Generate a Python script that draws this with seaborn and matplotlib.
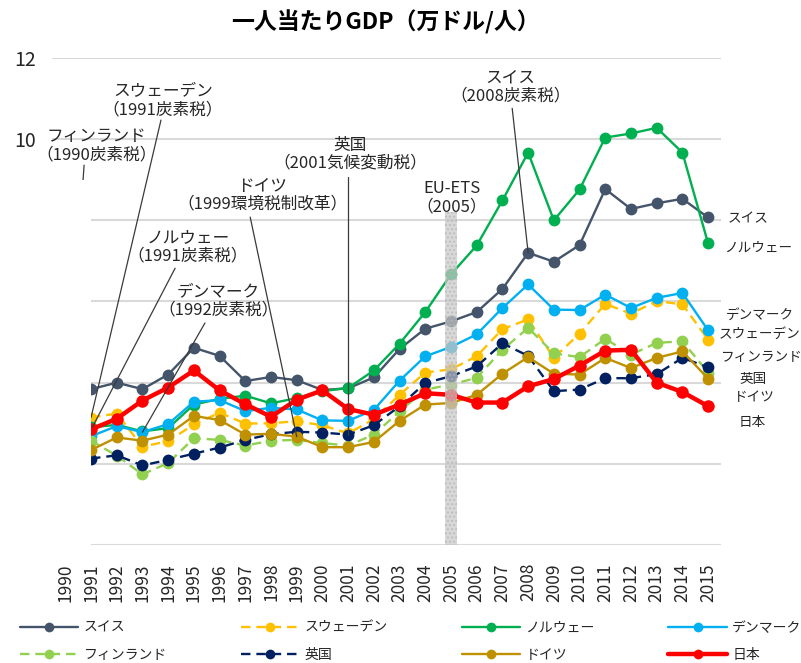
import matplotlib
matplotlib.use("Agg")
import matplotlib.pyplot as plt
import seaborn as sns
import pandas as pd
from matplotlib.patches import Rectangle
from matplotlib.lines import Line2D

# data (1991-2015), GDP per capita in 10k USD
years = list(range(1991, 2016))
swiss = [3.84, 4.0, 3.84, 4.2, 4.86, 4.66, 4.04, 4.14, 4.06, 3.82, 3.86, 4.13, 4.83,
         5.33, 5.51, 5.74, 6.31, 7.2, 6.98, 7.39, 8.77, 8.28, 8.42, 8.53, 8.07]
sweden = [3.14, 3.24, 2.42, 2.56, 2.97, 3.26, 2.99, 3.0, 3.05, 2.95, 2.75, 3.1, 3.70,
          4.25, 4.33, 4.65, 5.32, 5.56, 4.61, 5.21, 5.94, 5.70, 6.01, 5.93, 5.06]
norway = [2.90, 2.96, 2.80, 2.88, 3.46, 3.6, 3.68, 3.49, 3.62, 3.79, 3.87, 4.30, 4.96,
          5.74, 6.67, 7.38, 8.49, 9.67, 8.0, 8.76, 10.04, 10.14, 10.28, 9.67, 7.43]
denmark = [2.68, 2.93, 2.78, 2.98, 3.53, 3.57, 3.3, 3.38, 3.34, 3.07, 3.06, 3.33, 4.05,
           4.65, 4.88, 5.19, 5.84, 6.42, 5.80, 5.79, 6.17, 5.84, 6.09, 6.21, 5.29]
finland = [2.57, 2.2, 1.74, 2.02, 2.63, 2.59, 2.45, 2.57, 2.59, 2.51, 2.45, 2.72, 3.29,
           3.83, 3.95, 4.12, 4.81, 5.35, 4.72, 4.63, 5.08, 4.69, 4.98, 5.02, 4.25]
uk = [2.13, 2.21, 1.96, 2.10, 2.25, 2.40, 2.59, 2.73, 2.79, 2.77, 2.72, 2.95, 3.42,
      3.99, 4.16, 4.40, 4.97, 4.66, 3.79, 3.83, 4.11, 4.11, 4.21, 4.61, 4.38]
germany = [2.34, 2.65, 2.57, 2.72, 3.18, 3.08, 2.72, 2.74, 2.67, 2.41, 2.41, 2.54, 3.06,
           3.46, 3.50, 3.70, 4.22, 4.63, 4.22, 4.20, 4.61, 4.36, 4.61, 4.77, 4.10]
japan = [2.85, 3.11, 3.56, 3.88, 4.30, 3.81, 3.47, 3.16, 3.58, 3.81, 3.35, 3.21, 3.46,
         3.74, 3.70, 3.51, 3.51, 3.91, 4.09, 4.42, 4.79, 4.81, 4.0, 3.77, 3.42]

names = ["スイス", "スウェーデン", "ノルウェー", "デンマーク", "フィンランド", "英国", "ドイツ", "日本"]
series = [swiss, sweden, norway, denmark, finland, uk, germany, japan]
colors = ["#44546a", "#ffc000", "#00b050", "#00b0f0", "#92d050", "#002060", "#bf9000", "#ff0000"]
dashed = [False, True, False, False, True, True, False, False]

tick_years = list(range(1990, 2016))

# policy annotations: label, text pos, line start, line end
notes = [
    ("フィンランド\n（1990炭素税）", (1991.23, 9.85), (1990.73, 9.36), (1990.0, 2.8)),
    ("スウェーデン\n（1991炭素税）", (1993.8, 10.94), (1993.72, 10.47), (1991.0, 3.14)),
    ("ノルウェー\n（1991炭素税）", (1994.77, 7.36), (1994.27, 6.82), (1991.05, 2.90)),
    ("デンマーク\n（1992炭素税）", (1995.94, 6.01), (1995.43, 5.47), (1993.0, 2.78)),
    ("ドイツ\n（1999環境税制改革）", (1997.65, 8.62), (1997.19, 8.08), (1999.0, 2.67)),
    ("英国\n（2001気候変動税）", (2001.08, 9.63), (2001.0, 9.06), (2001.0, 2.72)),
    ("スイス\n（2008炭素税）", (2007.3, 11.28), (2007.38, 10.76), (2008.0, 7.2)),
]
end_labels = [("スイス", 2015.74, 8.05), ("ノルウェー", 2015.64, 7.32),
              ("デンマーク", 2015.7, 5.67), ("スウェーデン", 2015.42, 5.20),
              ("フィンランド", 2015.46, 4.63), ("英国", 2016.2, 4.09),
              ("ドイツ", 2016.0, 3.65), ("日本", 2016.2, 3.03)]

sns.set_theme(style="white")
plt.rcParams['font.family'] = ['Noto Sans CJK JP', 'DejaVu Sans']

fig = plt.figure(figsize=(8.01, 6.63), dpi=100)
ax = fig.add_axes([0.0655, 0.178, 0.8346, 0.7345])

handles = []
for name, vals, col, dsh in zip(names, series, colors, dashed):
    df = pd.DataFrame({"year": years, "gdp": vals})
    lw = 3.2 if name == "日本" else 1.7
    ms = 9 if name == "日本" else 8.5
    sns.lineplot(data=df, x="year", y="gdp", ax=ax, color=col, linewidth=lw,
                 marker="o", markersize=ms, markeredgewidth=0, sort=False)
    line = ax.lines[-1]
    if dsh:
        line.set_dashes((4, 2.5))
    h = Line2D([], [], color=col, linewidth=lw, marker="o", markersize=7,
               markeredgewidth=0)
    if dsh:
        h.set_dashes((4, 2.5))
    handles.append(h)

# EU-ETS band
ax.fill_between([2004.77, 2005.23], 0, 8.2, facecolor="#c8c8c8", alpha=0.7,
                hatch="....", edgecolor="#b4b4b4", linewidth=0, zorder=5)
ax.text(2005.04, 8.55, "EU-ETS\n（2005）", ha="center", va="center", fontsize=12,
        color="#262626", linespacing=1.1, zorder=8)

for label, tpos, p0, p1 in notes:
    ax.plot([p0[0], p1[0]], [p0[1], p1[1]], color="#3a3a3a", linewidth=0.9, zorder=4,
            clip_on=False)
    ax.text(tpos[0], tpos[1], label, ha="center", va="center", fontsize=12,
            color="#262626", linespacing=1.1, zorder=8)

# white box hiding the 1990 column
ax.add_patch(Rectangle((1989.5, -0.1), 1.5, 9.1, facecolor="white", edgecolor="none",
                       zorder=6, clip_on=False))

for label, x, y in end_labels:
    ax.text(x, y, label, ha="left", va="center", fontsize=9.8, color="#262626",
            clip_on=False)

ax.set_xlim(1989.5, 2015.5)
ax.set_ylim(0, 12)
ax.set_yticks(range(0, 13, 2))
ax.set_yticklabels(["", "", "", "", "", "10", "12"])
ax.set_xticks(tick_years)
ax.set_xticklabels([str(y) for y in tick_years], rotation=90)
ax.tick_params(axis="y", labelsize=14, length=0, pad=12, labelcolor="#262626")
ax.tick_params(axis="x", labelsize=12.5, length=0, pad=13, labelcolor="#262626")
ax.yaxis.grid(True, color="#d9d9d9", linewidth=1.5)
ax.set_axisbelow(True)
for s in ax.spines.values():
    s.set_visible(False)
ax.set_xlabel("")
ax.set_ylabel("")

fig.text(385 / 801, 1 - 22 / 663, "一人当たりGDP（万ドル/人）", ha="center", va="center",
         fontsize=16.5, fontweight="bold", color="#000000")

# legend fills by column, so reorder to get rows
order = [0, 4, 1, 5, 2, 6, 3, 7]
fig.legend([handles[i] for i in order], [names[i] for i in order], loc="upper left",
           bbox_to_anchor=(20 / 801, 1 - 621 / 663), ncol=4, frameon=False, fontsize=10,
           handlelength=4.2, handletextpad=0.4, columnspacing=5.3, borderpad=0,
           borderaxespad=0, labelspacing=0.95)

fig.savefig("out.png", dpi=100)
